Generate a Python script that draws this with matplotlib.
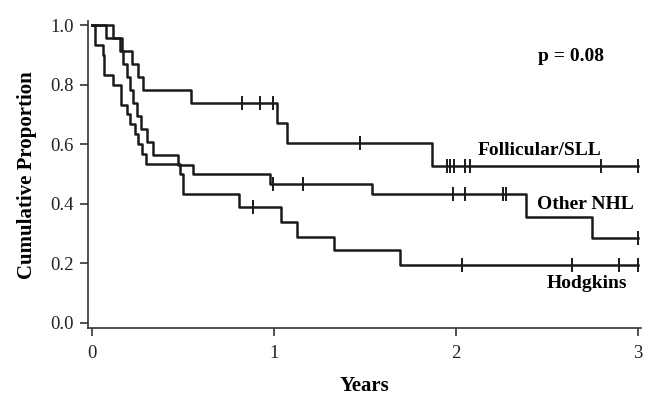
import numpy as np
import matplotlib
matplotlib.use('Agg')
import matplotlib.pyplot as plt

plt.rcParams['font.family'] = ['Liberation Serif', 'DejaVu Serif']

# Kaplan-Meier steps (event time, level after drop)
foll_t = [0.117, 0.163, 0.218, 0.254, 0.282, 0.542, 1.015, 1.07, 1.866]
foll_s = [0.957, 0.913, 0.870, 0.826, 0.783, 0.739, 0.672, 0.605, 0.527]
foll_c = [0.826, 0.925, 0.995, 1.473, 1.952, 1.967, 1.987, 2.05, 2.077, 2.797, 3.0]

other_t = [0.075, 0.154, 0.172, 0.192, 0.209, 0.225, 0.247, 0.269, 0.30, 0.337,
           0.474, 0.557, 0.978, 1.537, 2.385, 2.749]
other_s = [0.957, 0.913, 0.870, 0.826, 0.783, 0.739, 0.696, 0.652, 0.609, 0.565,
           0.53, 0.5, 0.467, 0.433, 0.355, 0.284]
other_c = [0.993, 1.158, 1.985, 2.05, 2.257, 2.275, 3.0]

hodg_t = [0.016, 0.059, 0.068, 0.117, 0.162, 0.191, 0.209, 0.236, 0.254, 0.273,
          0.297, 0.484, 0.498, 0.809, 1.037, 1.128, 1.33, 1.692]
hodg_s = [0.933, 0.9, 0.833, 0.8, 0.733, 0.7, 0.667, 0.633, 0.6, 0.567,
          0.533, 0.5, 0.433, 0.39, 0.34, 0.29, 0.245, 0.195]
hodg_c = [0.883, 2.03, 2.636, 2.897, 3.0]

t_end = 3.0
col = '#1a1a1a'

fig = plt.figure(figsize=(6.64, 4.05), dpi=100)
ax = fig.add_axes([0.1325, 0.19, 0.833, 0.757])


def km(ax, t, s, cens):
    tt = np.concatenate([[0.0], t, [t_end]])
    ss = np.concatenate([[1.0], s, [s[-1]]])
    ax.step(tt, ss, where='post', color=col, lw=1.8)
    idx = np.searchsorted(tt, cens, side='right') - 1
    ax.plot(cens, ss[idx], ls='none', marker='|', ms=10, mew=1.4, color=col)


km(ax, foll_t, foll_s, foll_c)
km(ax, other_t, other_s, other_c)
km(ax, hodg_t, hodg_s, hodg_c)

ax.set_xlim(-0.022, 3.016)
ax.set_ylim(-0.017, 1.012)
ax.set_xticks([0, 1, 2, 3])
ax.set_yticks([0.0, 0.2, 0.4, 0.6, 0.8, 1.0])
ax.set_yticklabels(['0.0', '0.2', '0.4', '0.6', '0.8', '1.0'])
for sp in ['top', 'right']:
    ax.spines[sp].set_visible(False)
for sp in ['left', 'bottom']:
    ax.spines[sp].set_linewidth(1.2)
    ax.spines[sp].set_color('#333333')
ax.tick_params(direction='out', length=6, width=1.2, colors='#333333',
               labelsize=13.5, labelcolor='#222222', pad=4)
ax.tick_params(axis='x', pad=6)

ax.set_xlabel('Years', fontsize=15, fontweight='bold', labelpad=10)
ax.set_ylabel('Cumulative Proportion', fontsize=15, fontweight='bold', labelpad=10)

ax.text(2.63, 0.893, 'p = 0.08', fontsize=14, fontweight='bold', ha='center', va='center')
ax.text(2.797, 0.58, 'Follicular/SLL', fontsize=14, fontweight='bold', ha='right', va='center')
ax.text(2.978, 0.396, 'Other NHL', fontsize=14, fontweight='bold', ha='right', va='center')
ax.text(2.94, 0.134, 'Hodgkins', fontsize=14, fontweight='bold', ha='right', va='center')

fig.savefig('out.png', dpi=100)
